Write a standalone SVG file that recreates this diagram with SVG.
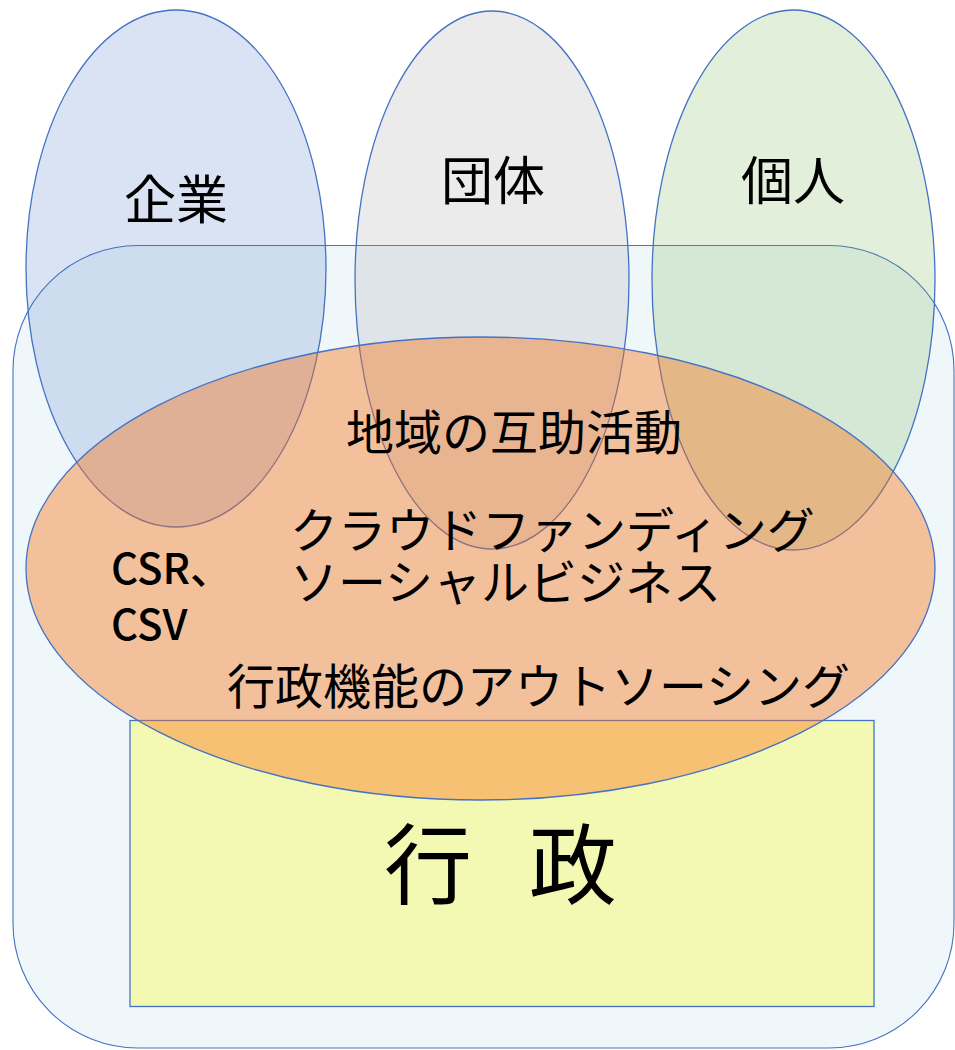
<svg xmlns="http://www.w3.org/2000/svg" width="955" height="1050" viewBox="0 0 955 1050">
  <style>
    .ln { stroke: #4472C4; stroke-width: 1.3; }
    .t { font-family: "Noto Sans CJK JP", "Noto Sans", sans-serif; fill: #000000; }
    .big { font-size: 52px; }
    .mid { font-size: 48px; }
    .lat { font-size: 42px; font-weight: 500; }
    .gov { font-size: 88px; }
  </style>
  <rect width="955" height="1050" fill="#FFFFFF"/>
  <g id="community">
    <rect x="13" y="245.5" width="941" height="802.5" rx="125" ry="125" fill="#EFF7FA" stroke="#4472C4" stroke-width="1.1"/>
  </g>
  <g id="kigyo">
    <ellipse class="ln" cx="176" cy="268.5" rx="150" ry="258.5" fill="#4472C4" fill-opacity="0.2"/>
    <text class="t big" x="176" y="219" text-anchor="middle">企業</text>
  </g>
  <g id="dantai">
    <ellipse class="ln" cx="492" cy="280" rx="137" ry="269" fill="#A5A5A5" fill-opacity="0.22"/>
    <text class="t big" x="493" y="200" text-anchor="middle">団体</text>
  </g>
  <g id="kojin">
    <ellipse class="ln" cx="793.5" cy="280" rx="141.5" ry="270" fill="#70AD47" fill-opacity="0.2"/>
    <text class="t big" x="793" y="200" text-anchor="middle">個人</text>
  </g>
  <g id="gyosei">
    <rect class="ln" x="130" y="720.5" width="744" height="286" fill="#F3F8B3"/>
    <text class="t gov" x="384" y="897" xml:space="preserve" word-spacing="37">行 政</text>
  </g>
  <g id="kyoudou">
    <ellipse class="ln" cx="480.5" cy="568.5" rx="454.5" ry="231.5" fill="#FB7315" fill-opacity="0.41"/>
    <text class="t mid" x="346" y="450">地域の互助活動</text>
    <text class="t mid"><tspan x="290" y="548">クラウドファンディング</tspan><tspan x="290" y="600">ソーシャルビジネス</tspan></text>
    <text class="t lat"><tspan x="111" y="584">CSR、</tspan><tspan x="111" y="640">CSV</tspan></text>
    <text class="t mid" x="227" y="704">行政機能のアウトソーシング</text>
  </g>
  <g id="connectors"></g>
</svg>
